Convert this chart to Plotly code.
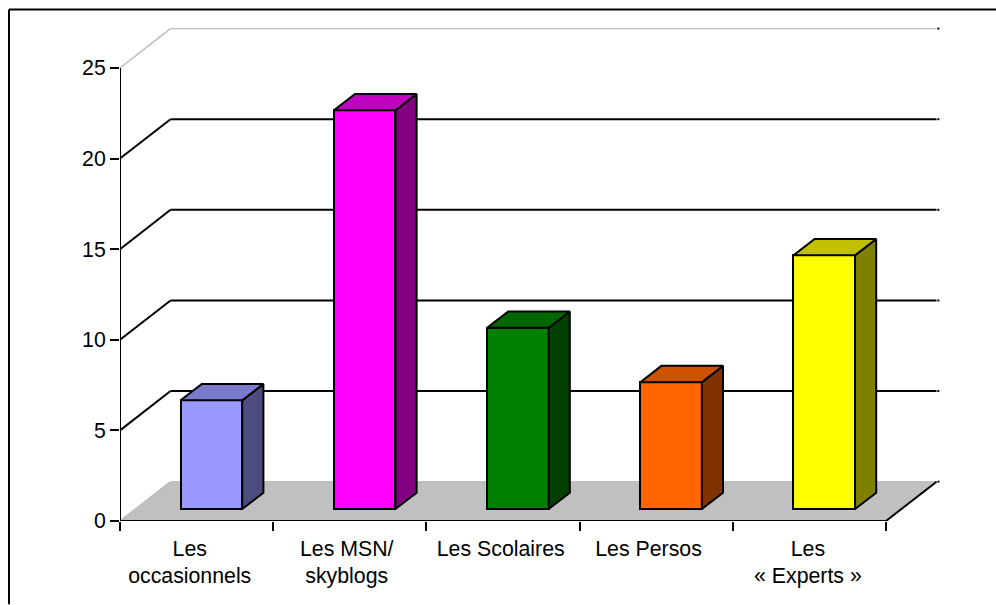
import plotly.graph_objects as go

categories = ["Les<br>occasionnels", "Les MSN/<br>skyblogs", "Les Scolaires", "Les Persos", "Les<br>« Experts »"]
values = [6, 22, 10, 7, 14]
y_ticks = [0, 5, 10, 15, 20, 25]

front_colors = ["#9999FF", "#FF00FF", "#008000", "#FF6600", "#FFFF00"]
top_colors = ["#7A7ACC", "#C000C0", "#006600", "#CC5200", "#C0C000"]
side_colors = ["#4D4D80", "#800080", "#004000", "#803300", "#808000"]

# oblique projection, in axis units
WALL_DX, WALL_DY = 0.33, 2.17
BAR_DX, BAR_DY = 0.138, 0.9
BAR_LIFT = 0.66
BAR_W = 0.402
bar_x = [i + 0.597 for i in range(len(values))]
label_x = [0.455, 1.48, 2.485, 3.45, 4.49]
n = len(values)

LEFT, RIGHT_END, TOP, BASE = 120, 941, 27.5, 521.5
W, H = 996, 605
px_x = lambda p: (p - LEFT) / (RIGHT_END - LEFT)
px_y = lambda p: (BASE - p) / (BASE - TOP)

fig = go.Figure()

fig.add_trace(go.Bar(
    x=bar_x, y=values, base=BAR_LIFT, width=BAR_W,
    marker=dict(color=front_colors, line=dict(color="black", width=2)),
    showlegend=False, hoverinfo="skip",
))

for x, v, top_c, side_c in zip(bar_x, values, top_colors, side_colors):
    xr = x + BAR_W / 2
    xl = x - BAR_W / 2
    ytop = BAR_LIFT + v
    fig.add_trace(go.Scatter(
        x=[xr, xr + BAR_DX, xr + BAR_DX, xr, xr],
        y=[BAR_LIFT, BAR_LIFT + BAR_DY, ytop + BAR_DY, ytop, BAR_LIFT],
        fill="toself", fillcolor=side_c, mode="lines",
        line=dict(color="black", width=2), showlegend=False, hoverinfo="skip",
    ))
    fig.add_trace(go.Scatter(
        x=[xl, xr, xr + BAR_DX, xl + BAR_DX, xl],
        y=[ytop, ytop, ytop + BAR_DY, ytop + BAR_DY, ytop],
        fill="toself", fillcolor=top_c, mode="lines",
        line=dict(color="black", width=2), showlegend=False, hoverinfo="skip",
    ))

# axis lines, these go a bit over the plot edge so no clipping
fig.add_trace(go.Scatter(
    x=[0, 0, None, 0, n, n + WALL_DX],
    y=[0, y_ticks[-1], None, 0, 0, WALL_DY],
    mode="lines", line=dict(color="black", width=2),
    cliponaxis=False, showlegend=False, hoverinfo="skip",
))
# little dots at the end of the wall lines
fig.add_trace(go.Scatter(
    x=[n + WALL_DX + 0.012] * len(y_ticks),
    y=[t + WALL_DY for t in y_ticks],
    mode="markers", marker=dict(color="black", size=2, symbol="square"),
    cliponaxis=False, showlegend=False, hoverinfo="skip",
))

shapes = [dict(
    type="path", layer="below", fillcolor="#C0C0C0", line=dict(width=0),
    path=f"M 0 0 L {n} 0 L {n + WALL_DX} {WALL_DY} L {WALL_DX} {WALL_DY} Z",
)]
for t in y_ticks:
    color = "#BDBDBD" if t in (y_ticks[0], y_ticks[-1]) else "black"
    width = 1.5 if t in (y_ticks[0], y_ticks[-1]) else 2
    shapes.append(dict(
        type="line", layer="below", x0=0, y0=t, x1=WALL_DX, y1=t + WALL_DY,
        line=dict(color=color, width=width),
    ))
    shapes.append(dict(
        type="line", layer="below", x0=WALL_DX, y0=t + WALL_DY, x1=n + WALL_DX, y1=t + WALL_DY,
        line=dict(color=color, width=width),
    ))

# chart frame, cut by the picture on the right and at the bottom
frame = dict(type="line", xref="paper", yref="paper", line=dict(color="black", width=2), layer="above")
shapes.append({**frame, "x0": px_x(9), "y0": px_y(9), "x1": px_x(W), "y1": px_y(9)})
shapes.append({**frame, "x0": px_x(9), "y0": px_y(9), "x1": px_x(9), "y1": px_y(H)})

fig.update_layout(
    width=W, height=H, autosize=False,
    margin=dict(l=LEFT, r=W - RIGHT_END, t=TOP, b=H - BASE, pad=0),
    paper_bgcolor="white", plot_bgcolor="white",
    font=dict(family="Liberation Sans, Arial, sans-serif", size=21.3, color="black"),
    shapes=shapes, showlegend=False, bargap=0,
)
fig.update_xaxes(
    range=[0, (RIGHT_END - LEFT) / 153.2], showgrid=False, zeroline=False, showline=False,
    tickmode="array", tickvals=label_x, ticktext=categories, tickangle=0,
    ticks="outside", ticklen=8, tickwidth=0, tickcolor="rgba(0,0,0,0)",
    minor=dict(tickmode="array", tickvals=list(range(n + 1)), ticks="outside", ticklen=9,
               tickwidth=1.5, tickcolor="black", showgrid=False),
)
fig.update_yaxes(
    range=[0, (BASE - TOP) / 18.16], showgrid=False, zeroline=False, showline=False,
    tickmode="array", tickvals=y_ticks, ticks="outside", ticklen=9, tickwidth=2, tickcolor="black",
)

fig.write_html(
    "out.html",
    config={"displayModeBar": False},
    post_script="document.body.style.margin='0';document.body.style.overflow='hidden';",
)
